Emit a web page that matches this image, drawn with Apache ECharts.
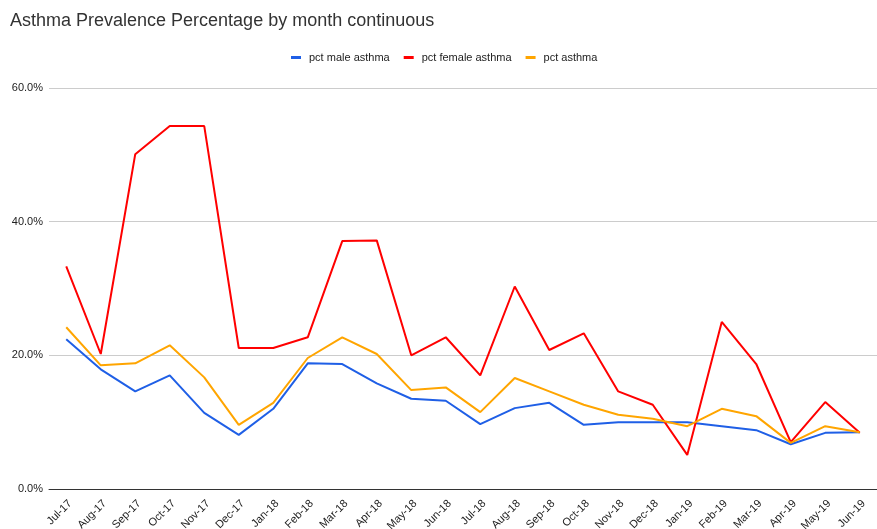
<!DOCTYPE html>
<html>
<head>
<meta charset="utf-8">
<script src="https://cdn.jsdelivr.net/npm/echarts@6/dist/echarts.min.js"></script>
<style>
  html, body { margin: 0; padding: 0; background: #fff; }
  #chart { width: 877px; height: 529px; }
</style>
</head>
<body>
<div id="chart"></div>
<script>
var months = ['Jul-17','Aug-17','Sep-17','Oct-17','Nov-17','Dec-17','Jan-18','Feb-18','Mar-18','Apr-18','May-18','Jun-18',
  'Jul-18','Aug-18','Sep-18','Oct-18','Nov-18','Dec-18','Jan-19','Feb-19','Mar-19','Apr-19','May-19','Jun-19'];

var maleAsthma = [22.4,17.9,14.6,17.0,11.4,8.1,12.0,18.8,18.7,15.8,13.5,13.2,9.7,12.1,12.9,9.6,10.0,10.0,10.0,9.4,8.8,6.7,8.4,8.5];
var femaleAsthma = [33.3,20.2,50.1,54.3,54.3,21.1,21.1,22.7,37.1,37.2,20.0,22.7,17.0,30.3,20.8,23.3,14.6,12.6,5.1,25.0,18.7,7.0,13.0,8.4];
var allAsthma = [24.2,18.5,18.8,21.5,16.7,9.6,12.9,19.6,22.7,20.2,14.8,15.2,11.5,16.6,14.6,12.6,11.1,10.5,9.4,12.0,10.9,6.9,9.4,8.5];

var chart = echarts.init(document.getElementById('chart'));

const mkLine = (name, data, color) => ({
  name: name,
  type: 'line',
  data: data,
  symbol: 'none',
  lineStyle: { width: 2, color: color },
  itemStyle: { color: color }
});

var option = {
  backgroundColor: '#fff',
  animation: false,
  title: {
    text: 'Asthma Prevalence Percentage by month continuous',
    left: 5,
    top: 7,
    textStyle: { fontFamily: 'Arial, Liberation Sans', fontSize: 18, fontWeight: 'normal', color: '#333' }
  },
  legend: {
    top: 47,
    left: 286,
    itemWidth: 10,
    itemHeight: 3,
    itemGap: 14,
    icon: 'rect',
    textStyle: { fontFamily: 'Arial, Liberation Sans', fontSize: 11, color: '#222', padding: [0, 0, 0, 3] }
  },
  grid: { left: 49, right: 0, top: 88, bottom: 40, containLabel: false, outerBoundsMode: 'none' },
  xAxis: {
    type: 'category',
    data: months,
    boundaryGap: true,
    axisLine: { lineStyle: { color: '#333', width: 1 } },
    axisTick: { show: false },
    axisLabel: {
      rotate: 45,
      interval: 0,
      margin: 9,
      verticalAlign: 'top',
      fontFamily: 'Arial, Liberation Sans',
      fontSize: 11,
      color: '#222'
    }
  },
  yAxis: {
    type: 'value',
    min: 0,
    max: 60,
    interval: 20,
    axisLine: { show: false },
    axisTick: { show: false },
    splitLine: { lineStyle: { color: '#ccc', width: 1 } },
    axisLabel: {
      formatter: v => v.toFixed(1) + '%',
      margin: 6,
      fontFamily: 'Arial, Liberation Sans',
      fontSize: 11,
      color: '#222'
    }
  },
  series: [
    mkLine('pct male asthma', maleAsthma, '#1f5fe6'),
    mkLine('pct female asthma', femaleAsthma, '#ff0000'),
    mkLine('pct asthma', allAsthma, '#ffa500')
  ]
};

chart.setOption(option);
</script>
</body>
</html>
